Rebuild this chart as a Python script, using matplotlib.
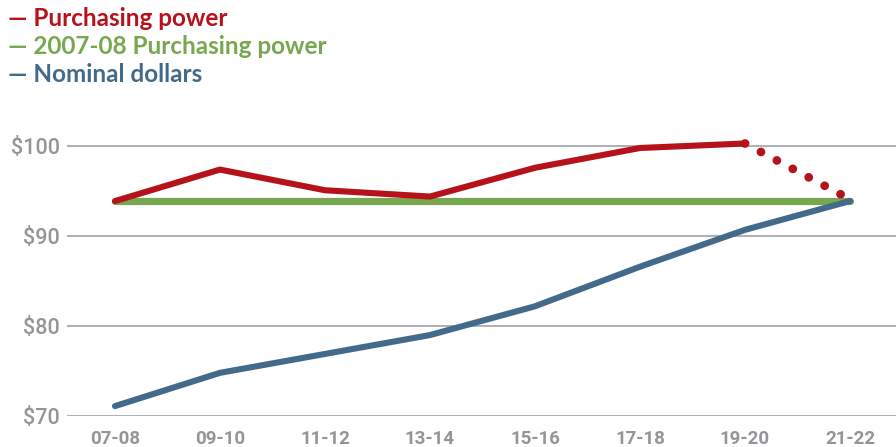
import matplotlib
matplotlib.use("Agg")
import matplotlib.pyplot as plt
from matplotlib import font_manager

years = ["07-08", "09-10", "11-12", "13-14", "15-16", "17-18", "19-20", "21-22"]
purchasing = [93.9, 97.4, 95.1, 94.4, 97.6, 99.8, 100.3, 94.1]
baseline = [93.9] * 8
nominal = [71.1, 74.8, 76.9, 79.0, 82.2, 86.6, 90.7, 93.9]
yticks = [70, 80, 90, 100]
ytick_labels = ["$70", "$80", "$90", "$100"]

RED = "#B5121B"
GREEN = "#77A74F"
BLUE = "#436A8A"
GRAY = "#939598"
GRID = "#A7A9AC"

names = {f.name for f in font_manager.fontManager.ttflist}
narrow = "Liberation Sans Narrow" if "Liberation Sans Narrow" in names else "Roboto"

fig = plt.figure(figsize=(8.96, 4.47), dpi=100)
ax = fig.add_axes([67/896, (447-416)/447, (896-67)/896, (416-130)/447])

x = list(range(len(years)))
ax.plot(x, baseline, color=GREEN, lw=5.2, solid_capstyle="round", zorder=2)
ax.plot(x[:7], purchasing[:7], color=RED, lw=4.4, solid_capstyle="round", zorder=3)
ax.plot(x[6:], purchasing[6:], color=RED, lw=6.3, dash_capstyle="round",
        linestyle=(0, (0.01, 2.05)), zorder=3)
ax.plot(x, nominal, color=BLUE, lw=4.4, solid_capstyle="round", zorder=4)

ax.set_xlim(-0.457, 7.438)
ax.set_ylim(70, 101.8)
ax.set_yticks(yticks)
ax.set_yticklabels(ytick_labels)
ax.set_xticks(x)
ax.set_xticklabels(years)
ax.grid(axis="y", color=GRID, lw=1.3, zorder=0)
ax.set_axisbelow(True)
for s in ax.spines.values():
    s.set_visible(False)
ax.tick_params(axis="both", length=0, colors=GRAY)
ax.tick_params(axis="y", pad=5)
ax.tick_params(axis="x", pad=10)
for lab in ax.get_yticklabels():
    lab.set_fontfamily(narrow)
    lab.set_fontsize(15.5)
    lab.set_fontweight("medium")
for lab in ax.get_xticklabels():
    lab.set_fontfamily(narrow)
    lab.set_fontsize(13.5)
    lab.set_fontweight("bold")

legend = [("Purchasing power", RED), ("2007-08 Purchasing power", GREEN), ("Nominal dollars", BLUE)]
for i, (t, c) in enumerate(legend):
    y = 1 - (19 + 28 * i) / 447
    fig.text(8/896, y, "\u2014 " + t, color=c, fontsize=17.5, fontweight="bold",
             family="Lato", va="center", ha="left")

fig.savefig("out.png", dpi=100)
